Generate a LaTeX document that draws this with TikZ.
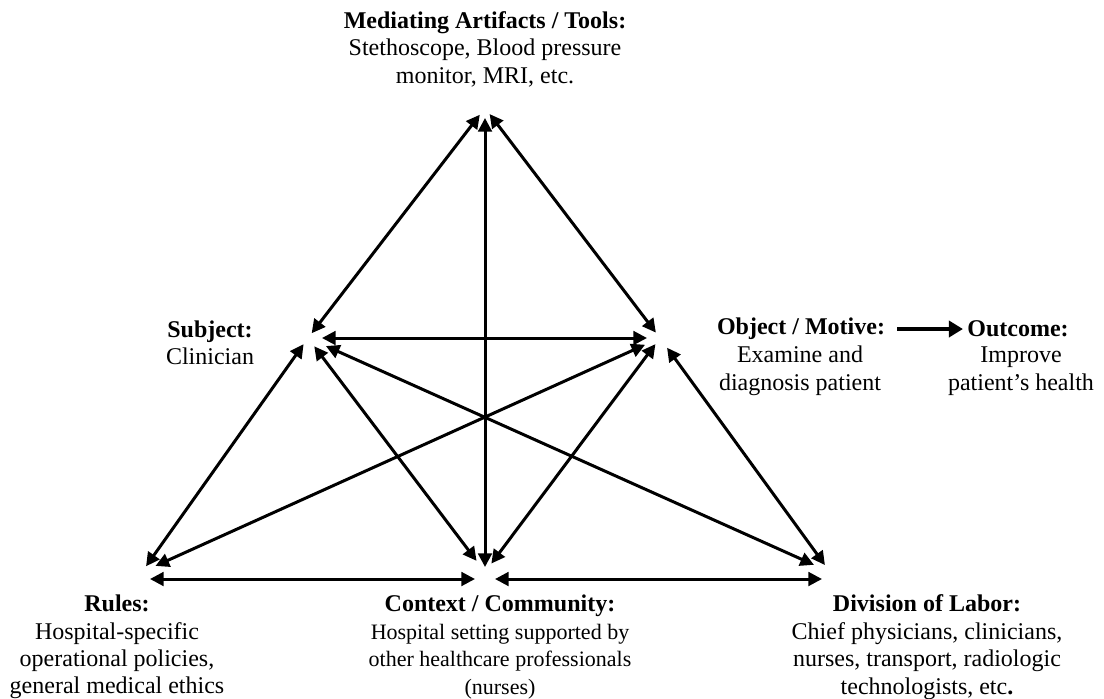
\documentclass[tikz,border=0pt]{standalone}
\usepackage{fontspec}
\setmainfont{Liberation Serif}
\usetikzlibrary{arrows.meta}
\begin{document}
\begin{tikzpicture}[x=0.5pt,y=-0.5pt,
  lbl/.style={align=center,inner sep=0pt,font=\fontsize{12}{13.75}\selectfont},
  lblsm/.style={align=center,inner sep=0pt,font=\fontsize{11}{13.75}\selectfont},
  ttl/.style={inner sep=0pt,font=\fontsize{12}{13.75}\selectfont\bfseries},
  link/.style={line width=1.5pt,
    {Triangle[length=6.8pt,width=6.8pt]}-{Triangle[length=6.8pt,width=6.8pt]}},
  flow/.style={line width=2.2pt,-{Triangle[length=7pt,width=8pt]}},
  ]
\useasboundingbox (0,0) rectangle (1104,698);

% corners of the activity system
\coordinate (T) at (485,108);  % tools
\coordinate (S) at (308,338);  % subject
\coordinate (O) at (660,338);  % object
\coordinate (R) at (142,572);  % rules
\coordinate (C) at (485,572);  % community
\coordinate (D) at (830,572);  % division of labor

% outer edges and spokes
\draw[link, shorten <=4.25pt, shorten >=3pt]   (T) -- (S);
\draw[link, shorten <=5pt,    shorten >=2.5pt] (T) -- (C);
\draw[link, shorten <=3.8pt,  shorten >=3.4pt] (T) -- (O);
\draw[link, shorten <=7pt,    shorten >=6.5pt] (S) -- (O);
\draw[link, shorten <=3.8pt,  shorten >=3.5pt] (S) -- (R);
\draw[link, shorten <=5.2pt,  shorten >=7pt]   (S) -- (C);
\draw[link, shorten <=9.8pt,  shorten >=8.8pt] (S) -- (D);
\draw[link, shorten <=8.2pt,  shorten >=7.4pt] (O) -- (R);
\draw[link, shorten <=3.8pt,  shorten >=5.3pt] (O) -- (C);
\draw[link, shorten <=6pt,    shorten >=4.3pt] (O) -- (D);
\draw[link, shorten <=4pt,    shorten >=5pt]   ([yshift=-3.5pt]R) -- ([yshift=-3.5pt]C);
\draw[link, shorten <=5pt,    shorten >=4pt]   ([yshift=-3.5pt]C) -- ([yshift=-3.5pt]D);

% labels
\node[lbl] (tools) at (485,49)
  {\textbf{Mediating Artifacts / Tools:}\\Stethoscope, Blood pressure\\monitor, MRI, etc.};
\node[lbl] (subj) at (210,343) {\textbf{Subject:}\\Clinician};
\node[ttl] (objt) at (801,329) {Object / Motive:};
\node[lbl] (objb) at (800,371) {Examine and\\diagnosis patient};
\node[ttl] (outt) at (1018,329) {Outcome:};
\node[lbl] (outb) at (1021,371) {Improve\\patient’s health};
\node[lbl] (rules) at (117,647)
  {\textbf{Rules:}\\Hospital-specific\\operational policies,\\general medical ethics};
\node[lblsm] (comm) at (500,647)
  {{\fontsize{12}{13.75}\selectfont\textbf{Context / Community:}}\\Hospital setting supported by\\other healthcare professionals\\(nurses)};
\node[lbl] (div) at (927,647)
  {\textbf{Division of Labor:}\\Chief physicians, clinicians,\\nurses, transport, radiologic\\technologists, etc\textbf{.}};

\draw[flow, shorten <=6pt, shorten >=2pt] (objt.east) -- (outt.west);
\end{tikzpicture}
\end{document}
